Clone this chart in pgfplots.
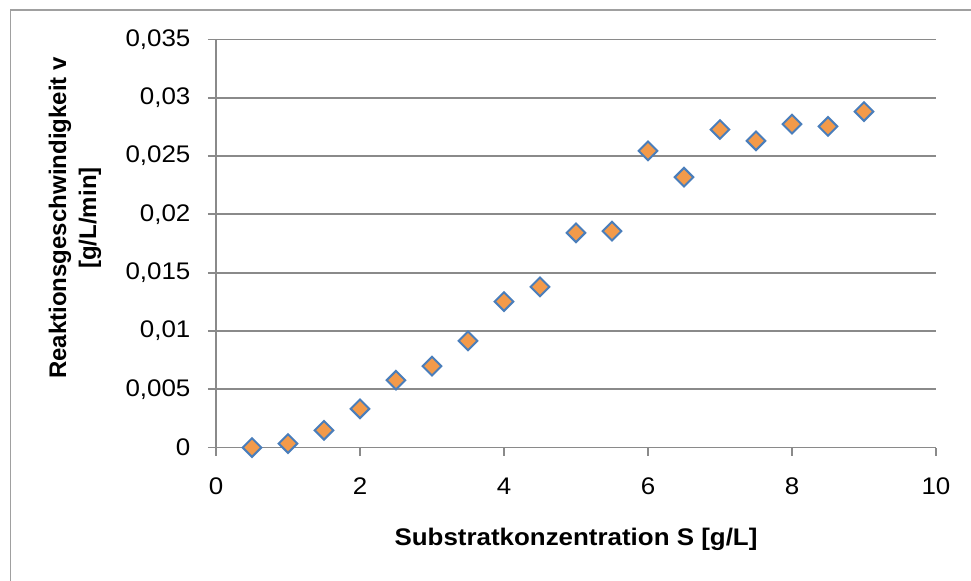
\documentclass[border=0pt]{standalone}
\usepackage{pgfplots}
\pgfplotsset{compat=1.18}
\usepackage{fontspec}
\setmainfont[FakeStretch=1.08]{Liberation Sans}
\newfontfamily\yfont{Liberation Sans}
\definecolor{gridgray}{HTML}{8A8A8A}
\definecolor{bordergray}{HTML}{A0A0A0}
\definecolor{mkorange}{HTML}{F39A4A}
\definecolor{mkblue}{HTML}{4A7EBB}
\pgfplotstableread{
S v
0.5 0.0000
1.0 0.00034
1.5 0.00148
2.0 0.00332
2.5 0.00577
3.0 0.00698
3.5 0.00915
4.0 0.01252
4.5 0.01378
5.0 0.01842
5.5 0.01856
6.0 0.02545
6.5 0.02319
7.0 0.02728
7.5 0.02631
8.0 0.02774
8.5 0.02754
9.0 0.02882
}\datatable
\begin{document}
\begin{tikzpicture}
\useasboundingbox (0,0) rectangle (485.5pt,-290pt);
\draw[bordergray, line width=0.75pt] (5.25pt,-5pt) rectangle (500pt,-300pt);
\begin{axis}[
  at={(108pt,-223.75pt)}, anchor=south west,
  scale only axis, width=360pt, height=204pt,
  xmin=0, xmax=10, ymin=0, ymax=0.035,
  xtick={0,2,4,6,8,10},
  ytick={0,0.005,0.01,0.015,0.02,0.025,0.03,0.035},
  scaled y ticks=false,
  axis x line=bottom, axis y line=left,
  axis line style={-, draw=gridgray, line width=0.9pt},
  tick style={draw=gridgray, line width=0.9pt},
  major tick length=4pt, tick align=outside,
  ymajorgrids, grid style={draw=gridgray, line width=0.9pt},
  clip=false,
  /pgf/number format/assume math mode=true,
  /pgf/number format/use comma,
  yticklabel style={/pgf/number format/fixed, /pgf/number format/precision=3},
  tick label style={font=\fontsize{12}{14}\selectfont, inner sep=0pt},
  xticklabel style={anchor=north, yshift=-15pt+4pt},
  yticklabel style={anchor=east, xshift=-12.6pt+4pt},
  xlabel={Substratkonzentration S [g/L]},
  ylabel={Reaktionsgeschwindigkeit v\\{}[g/L/min]},
  xlabel style={at={(axis description cs:0.5,-0.2407)}, anchor=base, font=\fontsize{12}{14}\selectfont\bfseries},
  ylabel style={at={(axis description cs:-0.1958,0.5625)}, anchor=center, align=center, font=\yfont\fontsize{12}{15}\selectfont\bfseries},
]
\addplot[only marks, mark=square*, mark size=3.3pt,
  mark options={rotate=45, fill=mkorange, draw=mkblue, line width=1pt}]
  table[x=S, y=v] {\datatable};
\end{axis}
\end{tikzpicture}
\end{document}
